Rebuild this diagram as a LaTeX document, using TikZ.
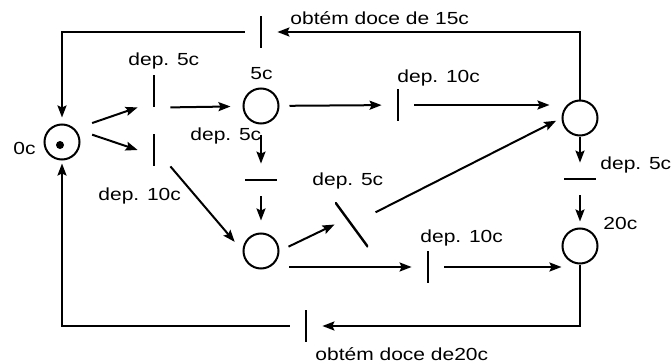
\documentclass[tikz,border=0pt]{standalone}
\usepackage{fontspec}
\setmainfont{Liberation Sans}[FakeStretch=1.2]
\usepackage{tikz}
\usetikzlibrary{arrows.meta}
\tikzset{
  node-place/.style={draw,line width=1pt,circle,minimum size=17.5pt,inner sep=0pt},
  node-token/.style={fill,circle,minimum size=4pt,inner sep=0pt},
  node-trans/.style={minimum width=16pt,minimum height=16pt,inner sep=0pt},
  % 变迁画成一条短杠：竖 / 横 / 斜
  trans-v/.style={node-trans,path picture={\draw[line width=1.2pt]
    (path picture bounding box.north) -- (path picture bounding box.south);}},
  trans-h/.style={node-trans,path picture={\draw[line width=1.2pt]
    (path picture bounding box.west) -- (path picture bounding box.east);}},
  trans-d/.style={node-trans,minimum width=16.5pt,minimum height=22.5pt,
    path picture={\draw[line width=1.2pt]
    (path picture bounding box.north west) -- (path picture bounding box.south east);}},
  node-lbl/.style={anchor=base west,inner sep=0pt,font=\fontsize{8.75}{10}\selectfont},
  arrow/.style={-{Stealth[length=6pt,width=4.5pt,inset=1pt]},line width=1pt},
  arrow-in/.style={arrow,shorten >=6pt},
  arrow-out/.style={arrow,shorten <=5pt},
}

\begin{document}
\begin{tikzpicture}[x=0.5pt,y=-0.5pt]
  \useasboundingbox (0,0) rectangle (671,364);
  % 库所
  \node[node-place] (p0)  at (62,142)  {};
  \node[node-token] (tok) at (60,145)  {};
  \node[node-place] (p5)  at (261,106) {};
  \node[node-place] (pm)  at (261,251) {};
  \node[node-place] (p15) at (580,118) {};
  \node[node-place] (p20) at (580,246) {};
  % 变迁
  \node[trans-v] (t1) at (154,91)  {};
  \node[trans-v] (t2) at (154,150) {};
  \node[trans-h] (t3) at (261,180) {};
  \node[trans-d] (t4) at (351.5,224.5) {};
  \node[trans-v] (t5) at (398,105) {};
  \node[trans-v] (t6) at (428,267) {};
  \node[trans-h] (t7) at (580,179) {};
  \node[trans-v] (t8) at (261,32)  {};
  \node[trans-v] (t9) at (306,326) {};
  % 文字
  \node[node-lbl] (l0)  at (13,154.5)  {0c};
  \node[node-lbl] (l5)  at (250,79.5)  {5c};
  \node[node-lbl] (l20) at (603,229.5) {20c};
  \node[node-lbl] (l1)  at (128,65.5)  {dep. 5c};
  \node[node-lbl] (l2)  at (98,200.5)  {dep. 10c};
  \node[node-lbl] (l3)  at (190,140.5) {dep. 5c};
  \node[node-lbl] (l4)  at (312,185.5) {dep. 5c};
  \node[node-lbl] (l5b) at (397,82.5)  {dep. 10c};
  \node[node-lbl] (l6)  at (420,242.5) {dep. 10c};
  \node[node-lbl] (l7)  at (600,169.5) {dep. 5c};
  \node[node-lbl] (l8)  at (290,24.5)  {obtém doce de 15c};
  \node[node-lbl] (l9)  at (315,360)   {obtém doce de20c};
  % 弧
  \draw[arrow,shorten <=9pt] (p0.north east) -- (t1.south west);
  \draw[arrow,shorten <=9pt] (p0.north east) -- (t2.west);
  \draw[arrow-in]  (t1.south east) -- (p5);
  \draw[arrow-out] (p5) -- (t5);
  \draw[arrow-in]  (t5) -- (t5 -| p15.west);
  \draw[arrow-out] (p5) -- (t3);
  \draw[arrow-in]  (t3) -- (pm);
  \draw[arrow-in]  (t2.south east) -- (pm.west);
  \draw[arrow-out] (pm.east) -- (t4.west);
  \draw[arrow,shorten <=4pt,shorten >=3pt] (t4) -- (p15.west);
  \draw[arrow,shorten <=7.5pt] (pm.south east |- t6) -- (t6);
  \draw[arrow] (t6) -- (t6 -| p20.west);
  \draw[arrow] (p15) -- (t7);
  \draw[arrow,shorten >=3pt] (t7) -- (p20);
  \draw[arrow] (p15) |- (t8);
  \draw[arrow,shorten >=3pt] (t8) -| (p0);
  \draw[arrow] (p20) |- (t9);
  \draw[arrow,shorten >=1.5pt] (t9) -| (p0);
\end{tikzpicture}
\end{document}
